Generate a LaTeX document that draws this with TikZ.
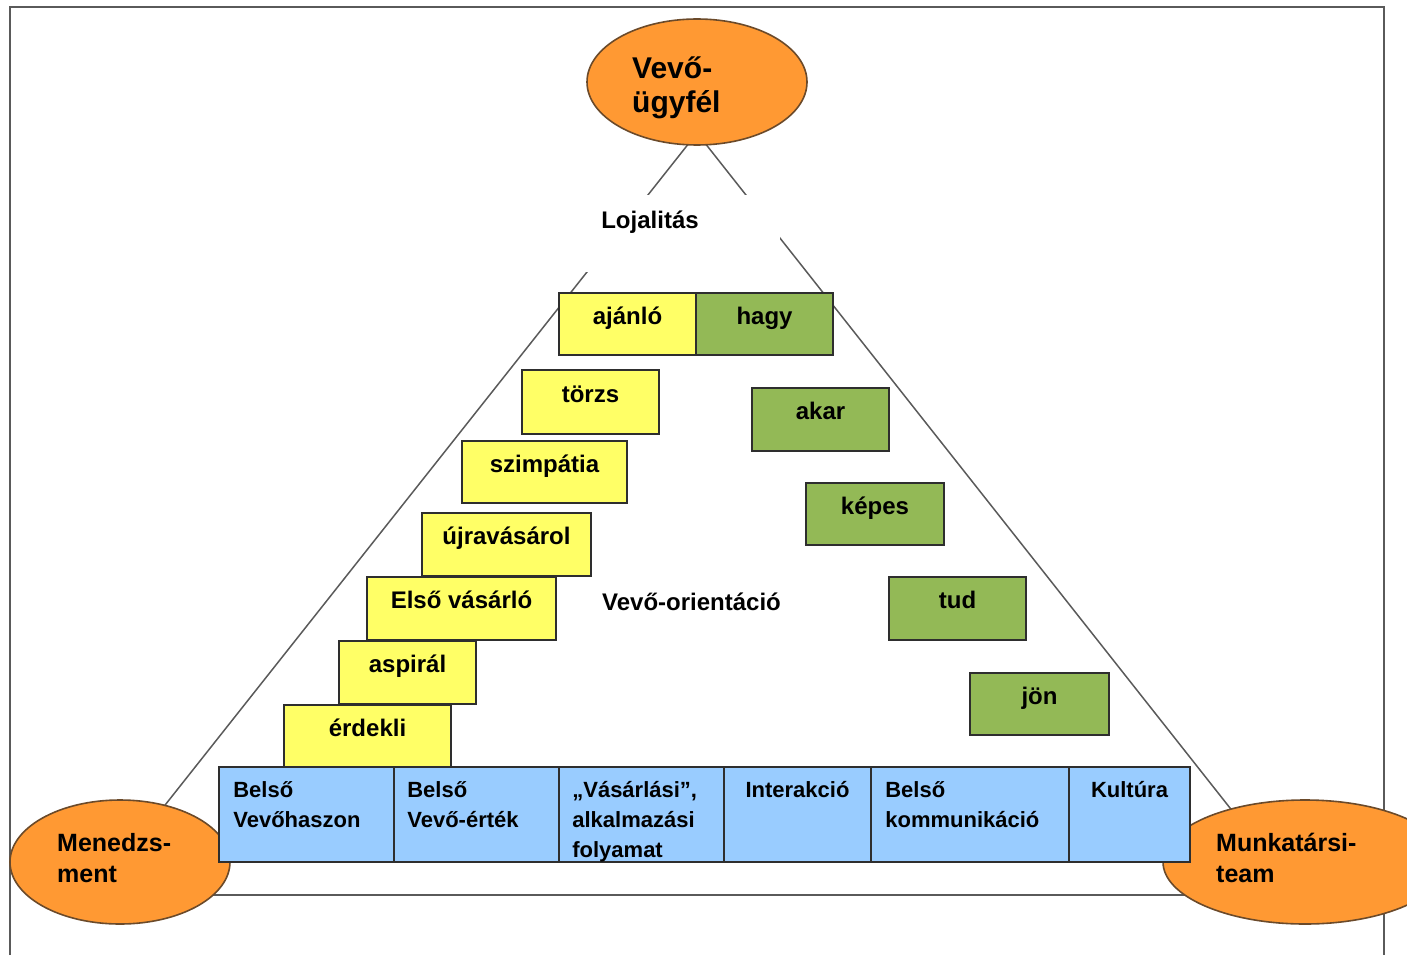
\documentclass[tikz,border=0pt]{standalone}
\usepackage{fontspec}
\setmainfont{Liberation Sans}
\usetikzlibrary{shapes.geometric}
\pgfdeclarelayer{background}
\pgfsetlayers{background,main}
\definecolor{yel}{HTML}{FFFF66}
\definecolor{grn}{HTML}{93B956}
\definecolor{org}{HTML}{FF9933}
\definecolor{blu}{HTML}{99CCFF}
\definecolor{edgec}{HTML}{2E2E2E}
\definecolor{linc}{HTML}{5A5A5A}
\definecolor{ellc}{HTML}{6B4A2A}
\begin{document}
\begin{tikzpicture}[x=1pt,y=-1pt,
  frameline/.style={draw=linc,line width=2.2pt},
  triline/.style={draw=linc,line width=1.5pt},
  box/.style={draw=edgec,line width=1.9pt,minimum height=63pt,inner sep=0pt,
    font=\fontsize{24}{28}\selectfont\bfseries,text height=9pt,text depth=9pt},
  ybox/.style={box,fill=yel},
  gbox/.style={box,fill=grn},
  cell/.style={draw=edgec,line width=1.7pt,fill=blu,minimum height=95pt,inner sep=0pt},
  celltext/.style={inner sep=0pt,align=left,font=\fontsize{22}{30}\selectfont\bfseries},
  oval/.style={ellipse,draw=ellc,line width=1.6pt,fill=org,inner sep=0pt},
  ovaltext/.style={inner sep=0pt,align=left},
  plain/.style={inner sep=0pt,font=\fontsize{24}{28}\selectfont\bfseries}
]
\useasboundingbox (0,0) rectangle (1407,955);
% coordinates
\coordinate (apex) at (697,133);
\coordinate (rb) at (1245,827);
\coordinate (bl) at (150,895);
\coordinate (br) at (1250,895);
% ellipses
\node[oval,minimum width=220pt,minimum height=124pt] (men) at (120,862) {};
\node[oval,minimum width=220pt,minimum height=126pt] (vevo) at (697,82) {};
\node[oval,minimum width=284pt,minimum height=124pt] (mt) at (1305,862) {};
\node[ovaltext,anchor=west,font=\fontsize{30}{34}\selectfont\bfseries] (vevot) at (632,88) {Vevő-\\ügyfél};
\node[plain] (loj) at (650,222) {Lojalitás};
% blue row
\node[cell,minimum width=175pt] (c1) at (306.5,814.5) {};
\node[cell,minimum width=165pt] (c2) at (476.5,814.5) {};
\node[cell,minimum width=165pt] (c3) at (641.5,814.5) {};
\node[cell,minimum width=147pt] (c4) at (797.5,814.5) {};
\node[cell,minimum width=198pt] (c5) at (970,814.5) {};
\node[cell,minimum width=121pt] (c6) at (1129.5,814.5) {};
\node[celltext,anchor=north west,xshift=15pt,yshift=-15pt] (t1) at (c1.north west) {Belső\\Vevőhaszon};
\node[celltext,anchor=north west,xshift=14pt,yshift=-15pt] (t2) at (c2.north west) {Belső\\Vevő-érték};
\node[celltext,anchor=north west,xshift=14pt,yshift=-15pt] (t3) at (c3.north west) {„Vásárlási”,\\alkalmazási\\folyamat};
\node[celltext,anchor=north,yshift=-15pt] (t4) at (c4.north) {Interakció};
\node[celltext,anchor=north west,xshift=15pt,yshift=-15pt] (t5) at (c5.north west) {Belső\\kommunikáció};
\node[celltext,anchor=north,yshift=-15pt] (t6) at (c6.north) {Kultúra};
% corner ellipse texts
\node[ovaltext,anchor=west,font=\fontsize{25}{31}\selectfont\bfseries] (ment) at (57,858) {Menedzs-\\ment};
\node[ovaltext,anchor=west,font=\fontsize{25}{31}\selectfont\bfseries] (mtt) at (1216,858) {Munkatársi-\\team};
% yellow steps
\node[ybox,minimum width=137pt,minimum height=62pt] (ajanlo) at (627.5,324) {ajánló};
\node[ybox,minimum width=137pt,minimum height=64pt] (torzs) at (590.5,402) {törzs};
\node[ybox,minimum width=165pt,minimum height=62pt] (szimp) at (544.5,472) {szimpátia};
\node[ybox,minimum width=169pt] (ujra) at (506.5,544.5) {újravásárol};
\node[ybox,minimum width=189pt] (elso) at (461.5,608.5) {Első vásárló};
\node[ybox,minimum width=137pt] (aspir) at (407.5,672.5) {aspirál};
\node[ybox,minimum width=167pt,minimum height=62pt] (erdek) at (367.5,736) {érdekli};
% green steps
\node[gbox,minimum width=137pt,minimum height=62pt] (hagy) at (764.5,324) {hagy};
\node[gbox,minimum width=137pt] (akar) at (820.5,419.5) {akar};
\node[gbox,minimum width=138pt,minimum height=62pt] (kepes) at (875,514) {képes};
\node[gbox,minimum width=137pt] (tud) at (957.5,608.5) {tud};
\node[gbox,minimum width=139pt,minimum height=62pt] (jon) at (1039.5,704) {jön};
% centre label
\node[plain] (orient) at (691.5,602) {Vevő-orientáció};
% background: frame, triangle, mask
\begin{pgfonlayer}{background}
\draw[frameline] (10,955) -- (10,7) -- (1384,7) -- (1384,955);
\draw[triline] (apex) -- (men.center);
\draw[triline] (apex) -- (rb);
\draw[triline] (bl) -- (br);
\fill[white] (560,195) rectangle (780,272);
\end{pgfonlayer}
\end{tikzpicture}
\end{document}
